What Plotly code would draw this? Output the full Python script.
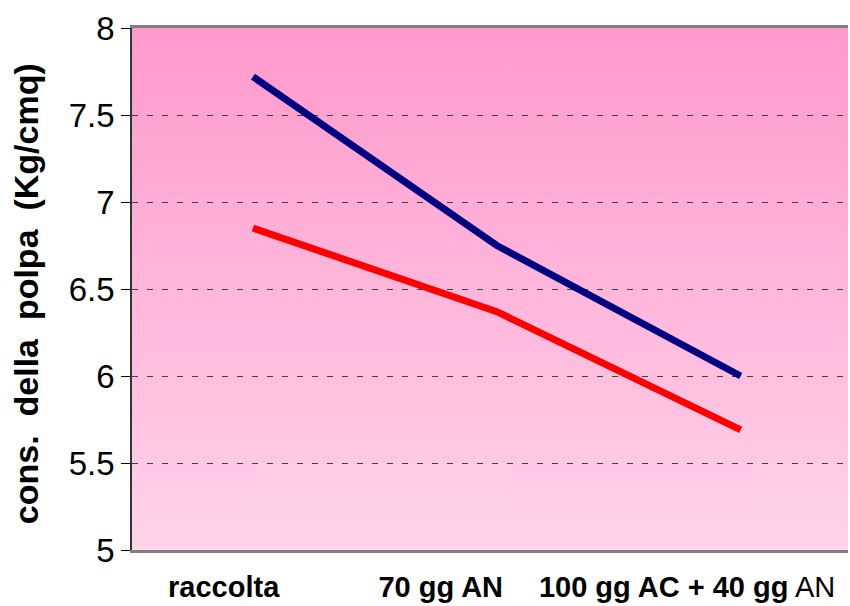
import base64
import plotly.graph_objects as go

categories = ["raccolta", "70 gg AN", "100 gg AC + 40 gg AN"]
cat_pos = [0, 1, 2]
blue_values = [7.72, 6.75, 6.00]
red_values = [6.85, 6.37, 5.69]
tick_pos = [-0.12, 0.77, 1.78]
tick_labels = ["<b>raccolta</b>", "<b>70 gg AN</b>", "<b>100 gg AC + 40 gg</b> AN"]
y_ticks = [5, 5.5, 6, 6.5, 7, 7.5, 8]
y_tick_labels = ["5", "5.5", "6", "6.5", "7", "7.5", "8"]

svg = (
    '<svg xmlns="http://www.w3.org/2000/svg" width="100" height="100" preserveAspectRatio="none">'
    '<defs><linearGradient id="g" x1="0" y1="0" x2="0" y2="1">'
    '<stop offset="0" stop-color="#ff99cc"/><stop offset="1" stop-color="#ffd3ea"/>'
    '</linearGradient></defs><rect width="100" height="100" fill="url(#g)"/></svg>'
)
bg_uri = "data:image/svg+xml;base64," + base64.b64encode(svg.encode()).decode()

fig = go.Figure()
fig.add_trace(go.Scatter(x=cat_pos, y=blue_values, mode="lines",
                         line=dict(color="#000080", width=7), hoverinfo="skip"))
fig.add_trace(go.Scatter(x=cat_pos, y=red_values, mode="lines",
                         line=dict(color="#ff0000", width=7), hoverinfo="skip"))

fig.add_layout_image(dict(source=bg_uri, xref="paper", yref="paper", x=0, y=1,
                          sizex=1, sizey=1, sizing="stretch", layer="below",
                          xanchor="left", yanchor="top"))

fig.update_layout(
    width=850, height=606,
    margin=dict(l=132, r=2, t=28, b=56),
    paper_bgcolor="white", plot_bgcolor="rgba(0,0,0,0)",
    showlegend=False,
    font=dict(family="Liberation Sans", color="black"),
)
fig.update_xaxes(
    range=[-0.496, 2.44], tickmode="array", tickvals=tick_pos, ticktext=tick_labels,
    tickfont=dict(size=29, family="Liberation Sans"),
    showgrid=False, zeroline=False, showline=True, linecolor="#808080", linewidth=3,
    mirror=True, ticks="", ticklabelstandoff=9,
)
fig.update_yaxes(
    range=[5, 8], tickmode="array", tickvals=y_ticks, ticktext=y_tick_labels,
    tickfont=dict(size=33, family="Liberation Sans"),
    showgrid=True, gridcolor="#404040", gridwidth=1, griddash="6px,9px",
    zeroline=False, showline=True, linecolor="#333333", linewidth=1.5,
    ticks="outside", ticklen=9, tickcolor="black", tickwidth=1,
    title=dict(text="<b>cons.\u00a0\u00a0della\u00a0\u00a0polpa\u00a0\u00a0(Kg/cmq)\u00a0</b>",
               font=dict(size=34, family="Liberation Sans"), standoff=20),
)

fig.write_html("out.html")
